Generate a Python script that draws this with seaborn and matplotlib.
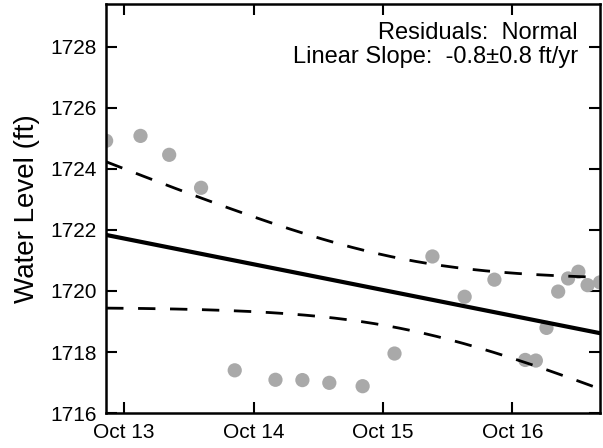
import numpy as np
import pandas as pd
import matplotlib
matplotlib.use("Agg")
import matplotlib.pyplot as plt
import matplotlib.dates as mdates
import seaborn as sns

dates = ["2013-08-11", "2013-11-16", "2014-02-05", "2014-05-06", "2014-08-09",
         "2014-12-02", "2015-02-16", "2015-05-03", "2015-08-05", "2015-11-03",
         "2016-02-18", "2016-05-19", "2016-08-11", "2016-11-06", "2016-12-06",
         "2017-01-05", "2017-02-07", "2017-03-07", "2017-04-05", "2017-05-01",
         "2017-06-05"]
levels = [1724.92, 1725.08, 1724.46, 1723.38, 1717.40,
          1717.09, 1717.08, 1716.99, 1716.88, 1717.95,
          1721.13, 1719.81, 1720.37, 1717.74, 1717.72,
          1718.79, 1719.98, 1720.41, 1720.63, 1720.19,
          1720.28]
y_ticks = [1716, 1718, 1720, 1722, 1724, 1726, 1728]
note = "Residuals:  Normal\nLinear Slope:  -0.8\u00b10.8 ft/yr"

df = pd.DataFrame({"date": pd.to_datetime(dates), "level": levels})

# 선형 회귀 (연 단위) + 95% 신뢰구간
t_yr = (df["date"] - df["date"].iloc[0]).dt.days.values / 365.25
slope, icpt = np.polyfit(t_yr, df["level"].values, 1)
n = len(t_yr)
resid = df["level"].values - (slope * t_yr + icpt)
s = np.sqrt(np.sum(resid ** 2) / (n - 2))
sxx = np.sum((t_yr - t_yr.mean()) ** 2)
t_crit = 2.093  # t(0.975, 19)

grid_dates = pd.date_range(df["date"].iloc[0], df["date"].iloc[-1], periods=200)
g = (grid_dates - df["date"].iloc[0]).days.values / 365.25
fit = slope * g + icpt
half = t_crit * s * np.sqrt(1.0 / n + (g - t_yr.mean()) ** 2 / sxx)
fit_df = pd.DataFrame({"date": grid_dates, "fit": fit,
                       "upper": fit + half, "lower": fit - half})

sns.set_style("ticks")
plt.rcParams["font.family"] = ["Liberation Sans", "DejaVu Sans"]
plt.rcParams["text.color"] = "black"
plt.rcParams["axes.labelcolor"] = "black"

fig = plt.figure(figsize=(6.03, 4.48), dpi=100)
ax = fig.add_axes([0.176, 0.078, 0.819, 0.913])

sns.scatterplot(data=df, x="date", y="level", ax=ax, s=105, color="#a9a9a9",
                edgecolor="none", linewidth=0, zorder=2, clip_on=True)
sns.lineplot(data=fit_df, x="date", y="fit", ax=ax, color="black", lw=3, zorder=3)
for col in ["upper", "lower"]:
    sns.lineplot(data=fit_df, x="date", y=col, ax=ax, color="black", lw=2,
                 zorder=3, linestyle=(0, (6.25, 5.25)))

ax.set_xlim(df["date"].iloc[0], df["date"].iloc[-1])
ax.set_ylim(1716, 1729.4)
ax.set_yticks(y_ticks)
ax.xaxis.set_major_locator(mdates.YearLocator(month=10, day=1))
ax.xaxis.set_major_formatter(mdates.DateFormatter("%b %y"))

ax.set_xlabel("")
ax.set_ylabel("Water Level (ft)", fontsize=20, labelpad=7, color="black")
ax.tick_params(direction="in", top=True, right=True, length=8, width=1.5,
               labelsize=15, pad=7, colors="black")
for sp in ax.spines.values():
    sp.set_visible(True)
    sp.set_linewidth(1.8)
    sp.set_color("black")

ax.text(0.955, 0.955, note, transform=ax.transAxes, ha="right", va="top",
        fontsize=17, linespacing=1.1, color="black")

fig.savefig("out.png", dpi=100)
